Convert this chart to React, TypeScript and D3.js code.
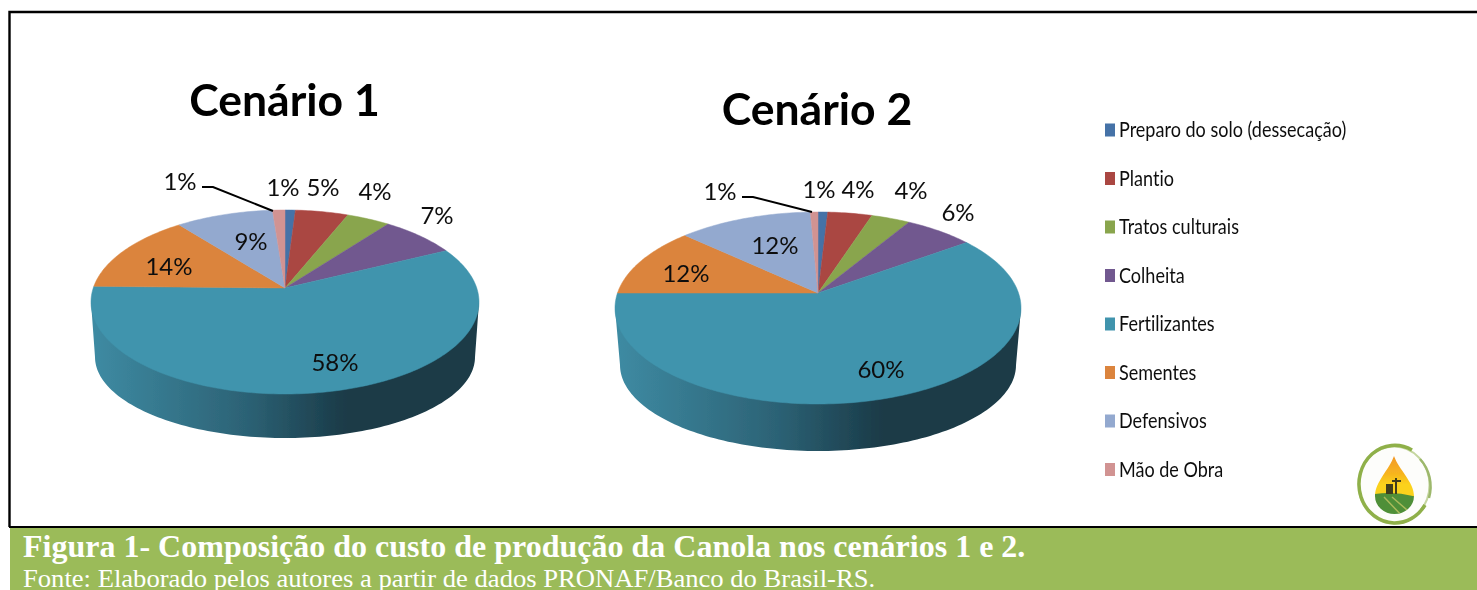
import * as d3 from 'd3';

const categories = ['Preparo do solo (dessecação)', 'Plantio', 'Tratos culturais', 'Colheita', 'Fertilizantes', 'Sementes', 'Defensivos', 'Mão de Obra'];
const colors = ['#4572a7', '#aa4643', '#89a54e', '#71588f', '#4094ad', '#db843d', '#93a9cf', '#d19392'];

// shares estimated from the slice edges, the labels are the printed ones
const cenario1 = [1.0, 5.1, 4.2, 7.4, 57.6, 14.1, 9.4, 1.2];
const cenario2 = [0.9, 4.1, 3.6, 6.4, 60.0, 11.9, 12.4, 0.7];
const labels1 = ['1%', '5%', '4%', '7%', '58%', '14%', '9%', '1%'];
const labels2 = ['1%', '4%', '4%', '6%', '60%', '12%', '12%', '1%'];

const W = 1477;
const H = 590;
const LABEL_FONT = 'Lato, sans-serif';
const SERIF = "'Liberation Serif', serif";

// c = how far the apex sits above the ellipse centre (perspective)
const pieA = {
  id: 'a', title: 'Cenário 1', titleX: 284.5, titleY: 116,
  cx: 285, cy: 302, rx: 194, ry: 92, c: 14, botCy: 357, botRx: 190, botRy: 81,
  labelPos: [[283, 187], [323, 187], [375, 191], [437, 215], [335, 362], [169, 266], [251, 241], [180, 181]],
  leader: [[202, 187], [213, 187], [273, 211]],
};
const pieB = {
  id: 'b', title: 'Cenário 2', titleX: 817, titleY: 125,
  cx: 818, cy: 308, rx: 203, ry: 96, c: 15, botCy: 365, botRx: 198, botRy: 86,
  labelPos: [[819, 189], [858, 189], [911, 190], [958, 212], [881, 369], [686, 273], [775, 245], [720, 191]],
  leader: [[742, 197], [753, 197], [812, 212]],
};

type Geo = typeof pieA;

function project(g: Geo, theta: number): [number, number] {
  const k = g.c / g.ry;
  const a = g.rx * Math.sqrt(1 - k * k);
  const u = Math.sin(theta);
  const v = Math.cos(theta);
  const w = 1 + k * v;
  return [g.cx + (a * u) / w, g.cy - (g.ry * v + g.c) / w];
}

const line = d3.line();

function slicePath(g: Geo, a0: number, a1: number) {
  const n = Math.max(2, Math.ceil((a1 - a0) / 0.02));
  const t = d3.scaleLinear().domain([0, n]).range([a0, a1]);
  const pts = d3.range(n + 1).map((i) => project(g, t(i)));
  return line([[g.cx, g.cy - g.c], ...pts]) + 'Z';
}

function wallPath(g: Geo) {
  const k = g.c / g.ry;
  const left = project(g, 2 * Math.PI - Math.acos(-k));
  const right = project(g, Math.acos(-k));
  const t = d3.scaleLinear().domain([0, 120]).range([Math.PI, 0]);
  const bottom = d3.range(121).map((i): [number, number] => [
    g.cx + g.botRx * Math.cos(t(i)),
    g.botCy + g.botRy * Math.sin(t(i)),
  ]);
  return line([left, ...bottom, right]) + 'Z';
}

function Pie3D({ g, values, labels }: { g: Geo; values: number[]; labels: string[] }) {
  const arcs = d3.pie<number>().sort(null)(values);
  return (
    <g>
      <defs>
        <linearGradient id={`wall-${g.id}`} gradientUnits="userSpaceOnUse" x1={g.cx - g.rx} x2={g.cx + g.rx} y1={0} y2={0}>
          <stop offset="0" stopColor="#3e8ba3" />
          <stop offset="0.4" stopColor="#2c6275" />
          <stop offset="0.66" stopColor="#1a3a47" />
          <stop offset="1" stopColor="#1a3a47" />
        </linearGradient>
      </defs>
      <g filter="url(#soft)">
        <path d={wallPath(g)} fill={`url(#wall-${g.id})`} />
        {arcs.map((d, i) => (
          <path key={i} d={slicePath(g, d.startAngle, d.endAngle)} fill={colors[i]} stroke={colors[i]} strokeWidth={0.5} />
        ))}
      </g>
      <g filter="url(#softText)">
        <path d={line(g.leader as [number, number][])!} fill="none" stroke="#000" strokeWidth={2} />
        {labels.map((t, i) => (
          <text key={i} x={g.labelPos[i][0]} y={g.labelPos[i][1]} dy="0.36em" textAnchor="middle" fontFamily={LABEL_FONT} fontSize={24} fill="#111">
            {t}
          </text>
        ))}
        <text x={g.titleX} y={g.titleY} textAnchor="middle" fontFamily={LABEL_FONT} fontWeight={700} fontSize={44.5} fill="#000">
          {g.title}
        </text>
      </g>
    </g>
  );
}

function Legend() {
  const y = d3.scalePoint<string>().domain(categories).range([130, 469.5]);
  return (
    <g filter="url(#softText)">
      {categories.map((c, i) => (
        <g key={c}>
          <rect x={1105} y={y(c)! - 6.5} width={10} height={13} fill={colors[i]} />
          <text
            transform={`translate(1119,${y(c)! + 7}) scale(0.82,1)`}
            fontFamily={LABEL_FONT}
            fontSize={22}
            fill="#111"
            style={{ fontVariantLigatures: 'none' }}
          >
            {c}
          </text>
        </g>
      ))}
    </g>
  );
}

function Logo() {
  return (
    <g filter="url(#soft)">
      <defs>
        <linearGradient id="dropFill" x1="0" x2="0" y1="0" y2="1">
          <stop offset="0" stopColor="#f2962a" />
          <stop offset="0.45" stopColor="#f7b51f" />
          <stop offset="0.7" stopColor="#fbd21e" />
        </linearGradient>
        <clipPath id="drop">
          <path d="M1394 456 C1389 470 1375 482 1375 496 A19.5 18 0 0 0 1414 496 C1414 482 1399 470 1394 456Z" />
        </clipPath>
      </defs>
      <ellipse cx={1394} cy={485} rx={35.5} ry={38.5} fill="#fdfdfb" stroke="#c5d6a0" strokeWidth={2} />
      <path d="M1412 450 A36 39 0 0 0 1372 454 A36 39 0 0 0 1394 523 A36 39 0 0 0 1425 505" fill="none" stroke="#8fb04a" strokeWidth={3.5} />
      <path d="M1420 459 A36 39 0 0 1 1429 498" fill="none" stroke="#9db86c" strokeWidth={2.5} />
      <g clipPath="url(#drop)">
        <rect x={1370} y={455} width={50} height={42} fill="url(#dropFill)" />
        <path d="M1370 495 Q1394 490 1420 498 V520 H1370Z" fill="#4f8f37" />
        <path d="M1392 497 L1414 516 M1384 497 L1404 518" stroke="#a9b95a" strokeWidth={1.5} fill="none" />
        <rect x={1386} y={484} width={7} height={10} fill="#3f3c1c" />
        <rect x={1395} y={478} width={2} height={16} fill="#3f3c1c" />
        <rect x={1392} y={480} width={9} height={2} fill="#3f3c1c" />
      </g>
    </g>
  );
}

export default function App() {
  return (
    <svg width={W} height={H} viewBox={`0 0 ${W} ${H}`} style={{ position: 'absolute', left: 0, top: 0, background: '#fff' }}>
      <defs>
        <filter id="soft" x="-5%" y="-5%" width="110%" height="110%">
          <feGaussianBlur stdDeviation="0.5" />
        </filter>
        <filter id="softText" x="-5%" y="-5%" width="110%" height="110%">
          <feGaussianBlur stdDeviation="0.35" />
        </filter>
      </defs>
      <path d={`M${W} 12H9.5V527`} fill="none" stroke="#000" strokeWidth={2.4} />
      <rect x={9} y={526} width={W - 9} height={2} fill="#000" />
      <Pie3D g={pieA} values={cenario1} labels={labels1} />
      <Pie3D g={pieB} values={cenario2} labels={labels2} />
      <Legend />
      <Logo />
      <rect x={10} y={528} width={W - 10} height={62} fill="#9bbb59" />
      <text transform="translate(23,557) scale(1.033,1)" fontFamily={SERIF} fontWeight={700} fontSize={31} fill="#fff">
        Figura 1- Composição do custo de produção da Canola nos cenários 1 e 2.
      </text>
      <text transform="translate(23,587) scale(1.065,1)" fontFamily={SERIF} fontSize={25} fill="#fff">
        Fonte: Elaborado pelos autores a partir de dados PRONAF/Banco do Brasil-RS.
      </text>
    </svg>
  );
}
